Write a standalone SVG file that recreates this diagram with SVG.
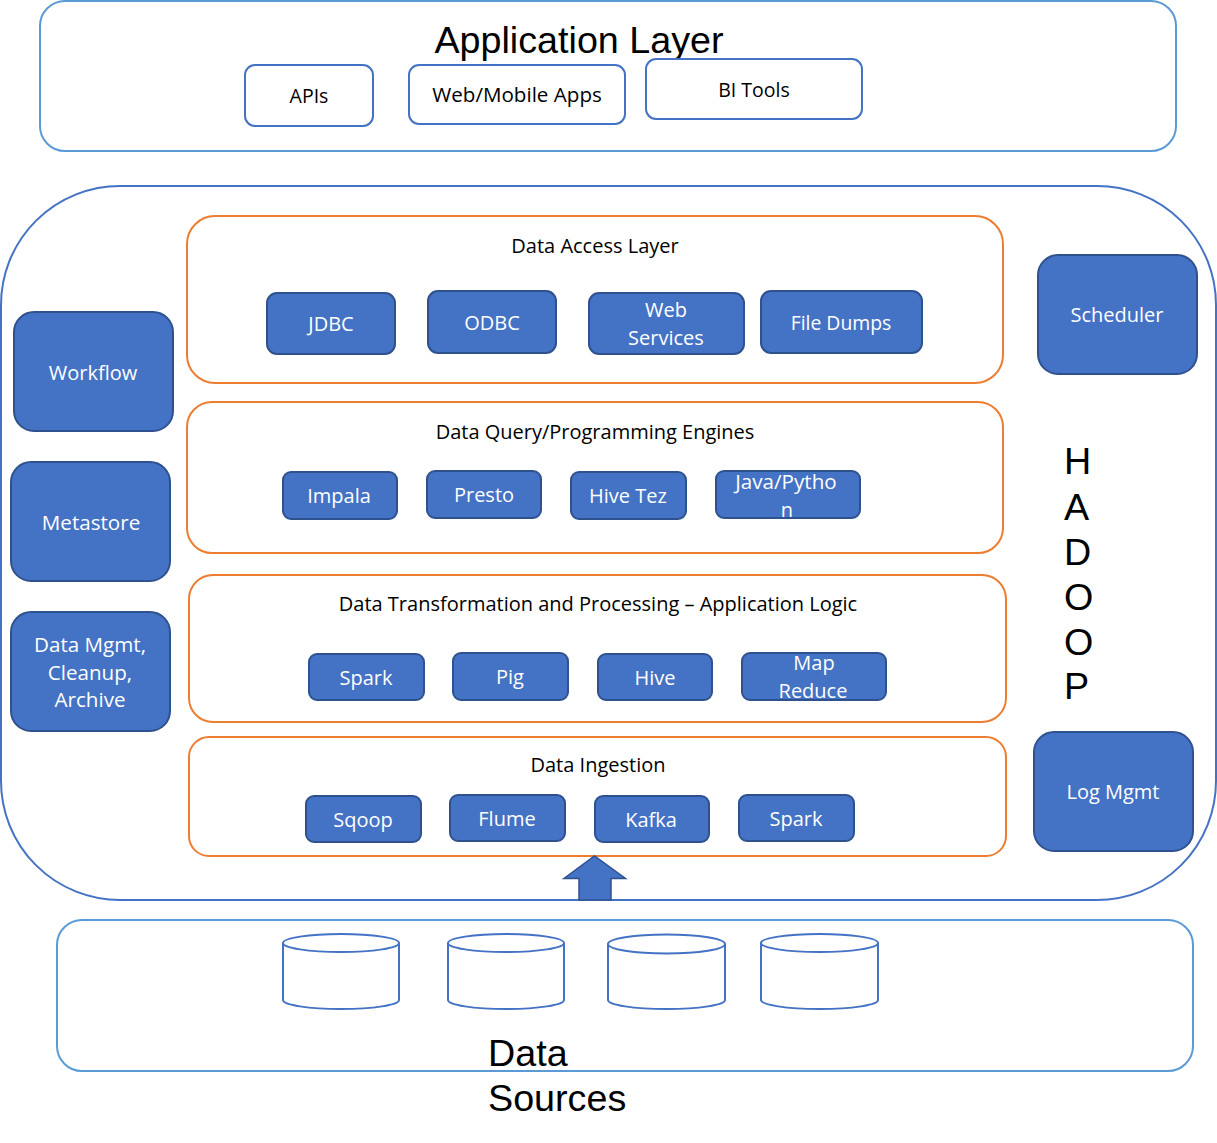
<svg xmlns="http://www.w3.org/2000/svg" width="1217" height="1143" viewBox="0 0 1217 1143">
<style>
.o{fill:#fff;stroke:#4472c4;stroke-width:2}
.l{fill:#fff;stroke:#5b9bd5;stroke-width:2}
.g{fill:#fff;stroke:#ed7d31;stroke-width:2}
.b{fill:#4472c4;stroke:#2f528f;stroke-width:2}
.c{fill:#fff;stroke:#4472c4;stroke-width:2}
text{font-family:"Open Sans","Noto Sans",sans-serif;font-size:20px;text-anchor:middle}
.w{fill:#fff}.k{fill:#000}
.a{font-family:"Liberation Sans",Arial,sans-serif;font-size:37.7px;fill:#000}
.st{text-anchor:start}
.s{font-size:19.5px}
.h{font-size:20px}
.m{font-size:20.6px}
.n{font-size:19.4px}
</style>
<g id="application-layer"><rect class="l" x="40" y="1" width="1136" height="150" rx="25"/><text class="a" x="579" y="53">Application Layer</text></g>
<g id="apis"><rect class="o" x="245" y="65" width="128" height="61" rx="10"/><text class="k s" x="309" y="103">APIs</text></g>
<g id="web-mobile"><rect class="o" x="409" y="65" width="216" height="59" rx="10"/><text class="k m" x="517" y="102">Web/Mobile Apps</text></g>
<g id="bi-tools"><rect class="o" x="646" y="59" width="216" height="60" rx="10"/><text class="k s" x="754" y="97">BI Tools</text></g>
<g id="hadoop"><rect class="o" x="1" y="186" width="1215" height="714" rx="119"/>
<text class="a st" x="1064" y="474">H</text>
<text class="a st" x="1064" y="520">A</text>
<text class="a st" x="1064" y="565">D</text>
<text class="a st" x="1064" y="610">O</text>
<text class="a st" x="1064" y="655">O</text>
<text class="a st" x="1064" y="699">P</text></g>
<g id="data-access"><rect class="g" x="187" y="216" width="816" height="167" rx="28"/><text class="k h" x="595" y="253">Data Access Layer</text></g>
<g id="data-query"><rect class="g" x="187" y="402" width="816" height="151" rx="25"/><text class="k h" x="595" y="439">Data Query/Programming Engines</text></g>
<g id="data-transform"><rect class="g" x="189" y="575" width="817" height="147" rx="24"/><text class="k h" x="598" y="611">Data Transformation and Processing – Application Logic</text></g>
<g id="data-ingestion"><rect class="g" x="189" y="737" width="817" height="119" rx="20"/><text class="k h" x="598" y="772">Data Ingestion</text></g>
<g id="jdbc"><rect class="b" x="267" y="293" width="128" height="61" rx="10"/><text class="w" x="331" y="331">JDBC</text></g>
<g id="odbc"><rect class="b" x="428" y="291" width="128" height="62" rx="10"/><text class="w" x="492" y="330">ODBC</text></g>
<g id="web-services"><rect class="b" x="589" y="293" width="155" height="61" rx="10"/><text class="w" x="666" y="317">Web</text><text class="w" x="666" y="345">Services</text></g>
<g id="file-dumps"><rect class="b" x="761" y="291" width="161" height="62" rx="10"/><text class="w n" x="841" y="330">File Dumps</text></g>
<g id="impala"><rect class="b" x="283" y="472" width="114" height="47" rx="8"/><text class="w" x="339" y="503">Impala</text></g>
<g id="presto"><rect class="b" x="427" y="471" width="114" height="47" rx="8"/><text class="w" x="484" y="502">Presto</text></g>
<g id="hive-tez"><rect class="b" x="571" y="472" width="115" height="47" rx="8"/><text class="w" x="628" y="503">Hive Tez</text></g>
<g id="java-python"><rect class="b" x="716" y="471" width="144" height="47" rx="8"/><text class="w m" x="786" y="489">Java/Pytho</text><text class="w" x="787" y="517">n</text></g>
<g id="spark-1"><rect class="b" x="309" y="654" width="115" height="46" rx="8"/><text class="w" x="366" y="685">Spark</text></g>
<g id="pig"><rect class="b" x="453" y="653" width="115" height="47" rx="8"/><text class="w" x="510" y="684">Pig</text></g>
<g id="hive"><rect class="b" x="598" y="654" width="114" height="46" rx="8"/><text class="w" x="655" y="685">Hive</text></g>
<g id="map-reduce"><rect class="b" x="742" y="653" width="144" height="47" rx="8"/><text class="w" x="814" y="670">Map</text><text class="w" x="813" y="698">Reduce</text></g>
<g id="sqoop"><rect class="b" x="306" y="796" width="115" height="46" rx="8"/><text class="w" x="363" y="827">Sqoop</text></g>
<g id="flume"><rect class="b" x="450" y="795" width="115" height="46" rx="8"/><text class="w" x="507" y="826">Flume</text></g>
<g id="kafka"><rect class="b" x="595" y="796" width="114" height="46" rx="8"/><text class="w" x="651" y="827">Kafka</text></g>
<g id="spark-2"><rect class="b" x="739" y="795" width="115" height="46" rx="8"/><text class="w" x="796" y="826">Spark</text></g>
<g id="workflow"><rect class="b" x="14" y="312" width="159" height="119" rx="20"/><text class="w" x="93" y="380">Workflow</text></g>
<g id="metastore"><rect class="b" x="11" y="462" width="159" height="119" rx="20"/><text class="w m" x="91" y="530">Metastore</text></g>
<g id="data-mgmt"><rect class="b" x="11" y="612" width="159" height="119" rx="20"/><text class="w m" x="90" y="652">Data Mgmt,</text><text class="w m" x="90" y="680">Cleanup,</text><text class="w m" x="90" y="707">Archive</text></g>
<g id="scheduler"><rect class="b" x="1038" y="255" width="159" height="119" rx="20"/><text class="w" x="1117" y="322">Scheduler</text></g>
<g id="log-mgmt"><rect class="b" x="1034" y="732" width="159" height="119" rx="20"/><text class="w" x="1113" y="799">Log Mgmt</text></g>
<g id="data-sources"><rect class="l" x="57" y="920" width="1136" height="151" rx="25"/>
<text class="a st" x="488" y="1066">Data</text><text class="a st" x="488" y="1111">Sources</text></g>
<g id="db-1"><path class="c" d="M283 943v57c0 5 26 9 58 9s58-4 58-9v-57"/><ellipse class="c" cx="341" cy="943" rx="58" ry="9"/></g>
<g id="db-2"><path class="c" d="M448 943v57c0 5 26 9 58 9s58-4 58-9v-57"/><ellipse class="c" cx="506" cy="943" rx="58" ry="9"/></g>
<g id="db-3"><path class="c" d="M608 944v56c0 5 26 9 58.500 9s58.500-4 58.500-9v-56"/><ellipse class="c" cx="666.500" cy="944" rx="58.500" ry="9.500"/></g>
<g id="db-4"><path class="c" d="M761 943v57c0 5 26 9 58.500 9s58.500-4 58.500-9v-57"/><ellipse class="c" cx="819.500" cy="943" rx="58.500" ry="9"/></g>
<g id="connectors"><path d="M579 900V878.500H564L594.500 856L625.500 878.500H611V900Z" fill="#4472c4" stroke="#2f528f" stroke-width="1.500"/></g>
</svg>
